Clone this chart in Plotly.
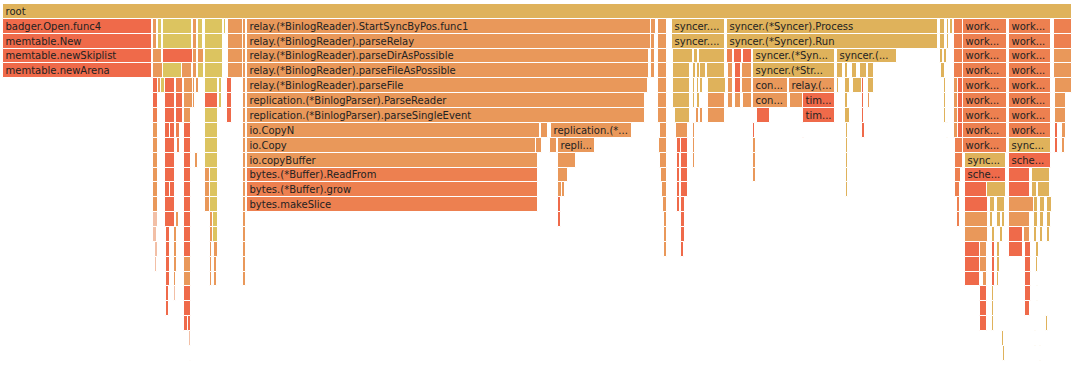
import plotly.graph_objects as go

# Flame graph frames, one list per stack depth.
# Each frame: (start sample, sample count, label, colour group)
depth_00 = [(0, 1069, "root", "g")]
depth_01 = [(0, 149, "badger.Open.func4", "r"), (150, 4, "", "o"), (155, 4, "", "y"), (160, 29, "", "y"),
            (190, 4, "", "o"), (195, 5, "", "y"), (202, 18, "", "y"), (221, 2, "", "y"), (225, 15, "", "o"),
            (240, 3, "", "o"),
            (244, 404, "relay.(*BinlogReader).StartSyncByPos.func1", "o"), (648, 5, "", "o"), (655, 9, "", "o"),
            (669, 53, "syncer....", "g"), (724, 211, "syncer.(*Syncer).Process", "g"),
            (937, 5, "", "g"), (944, 2, "", "g"), (947, 3, "", "g"), (951, 9, "", "d"),
            (960, 44, "work...", "d"), (1006, 42, "work...", "d"), (1051, 18, "", "d")]
depth_02 = [(0, 149, "memtable.New", "r"), (150, 4, "", "o"), (155, 4, "", "y"), (160, 29, "", "y"),
            (190, 4, "", "o"), (195, 5, "", "y"), (202, 18, "", "y"), (225, 15, "", "o"), (240, 3, "", "o"),
            (244, 404, "relay.(*BinlogReader).parseRelay", "o"), (648, 4, "", "o"), (655, 9, "", "o"),
            (669, 53, "syncer....", "g"), (724, 211, "syncer.(*Syncer).Run", "g"),
            (937, 5, "", "g"), (944, 2, "", "g"), (951, 9, "", "d"),
            (960, 44, "work...", "d"), (1006, 42, "work...", "d"), (1051, 18, "", "d")]
depth_03 = [(0, 149, "memtable.newSkiplist", "r"), (150, 9, "", "o"), (160, 30, "", "r"), (190, 4, "", "o"),
            (195, 6, "", "o"), (202, 18, "", "y"), (225, 15, "", "o"), (240, 3, "", "o"),
            (244, 402, "relay.(*BinlogReader).parseDirAsPossible", "o"), (648, 4, "", "o"), (655, 9, "", "o"),
            (670, 20, "", "g"), (691, 4, "", "g"), (696, 26, "", "g"),
            (724, 6, "", "d"), (731, 8, "", "r"), (740, 9, "", "r"),
            (750, 82, "syncer.(*Syn...", "g"), (834, 60, "syncer.(...", "g"),
            (937, 3, "", "g"), (941, 3, "", "g"), (951, 9, "", "d"),
            (960, 44, "work...", "d"), (1006, 42, "work...", "d"), (1051, 18, "", "o")]
depth_04 = [(0, 149, "memtable.newArena", "r"), (150, 10, "", "o"), (160, 19, "", "y"), (179, 10, "", "o"),
            (190, 4, "", "o"), (195, 6, "", "y"), (202, 18, "", "y"), (225, 15, "", "o"), (240, 3, "", "o"),
            (244, 402, "relay.(*BinlogReader).parseFileAsPossible", "o"), (648, 4, "", "o"), (655, 9, "", "o"),
            (670, 17, "", "g"), (690, 3, "", "g"), (694, 3, "", "g"), (697, 6, "", "g"), (704, 18, "", "g"),
            (725, 5, "", "o"), (732, 6, "", "r"), (739, 10, "", "o"),
            (750, 82, "syncer.(*Str...", "g"), (834, 6, "", "g"), (842, 3, "", "g"), (849, 5, "", "g"),
            (857, 7, "", "g"), (865, 6, "", "g"),
            (938, 4, "", "g"), (951, 9, "", "d"),
            (960, 44, "work...", "d"), (1006, 42, "work...", "d"), (1051, 18, "", "o")]
depth_05 = [(150, 5, "", "r"), (155, 3, "", "o"), (158, 4, "", "y"), (162, 10, "", "r"), (173, 7, "", "d"),
            (181, 9, "", "o"), (190, 2, "", "o"), (193, 3, "", "o"), (202, 13, "", "y"), (216, 3, "", "y"),
            (224, 5, "", "r"), (240, 3, "", "o"),
            (244, 401, "relay.(*BinlogReader).parseFile", "o"), (655, 9, "", "o"),
            (670, 17, "", "g"), (690, 2, "", "g"), (694, 2, "", "g"), (697, 3, "", "g"), (705, 18, "", "g"),
            (725, 5, "", "o"), (732, 6, "", "r"), (739, 10, "", "o"),
            (750, 35, "con...", "o"), (786, 46, "relay.(...", "o"),
            (834, 2, "", "g"), (842, 5, "", "g"), (850, 9, "", "g"), (859, 2, "", "r"), (865, 6, "", "g"),
            (941, 2, "", "g"), (951, 4, "", "o"), (955, 5, "", "r"),
            (960, 44, "work...", "d"), (1006, 42, "work...", "d"), (1052, 17, "", "o")]
depth_06 = [(150, 5, "", "r"), (162, 10, "", "r"), (173, 7, "", "r"), (181, 9, "", "o"), (190, 2, "", "o"),
            (202, 13, "", "r"), (216, 3, "", "y"), (224, 5, "", "r"), (240, 3, "", "o"),
            (244, 398, "replication.(*BinlogParser).ParseReader", "o"), (655, 9, "", "o"),
            (670, 17, "", "g"), (690, 2, "", "g"), (694, 3, "", "g"), (705, 17, "", "o"),
            (725, 5, "", "o"), (732, 6, "", "o"), (740, 9, "", "o"),
            (750, 35, "con...", "o"), (787, 13, "", "o"), (800, 32, "tim...", "r"),
            (842, 3, "", "g"), (859, 2, "", "r"), (865, 2, "", "o"),
            (941, 2, "", "g"), (951, 4, "", "o"), (955, 5, "", "r"),
            (960, 44, "work...", "d"), (1006, 42, "work...", "d"), (1052, 11, "", "o")]
depth_07 = [(150, 5, "", "d"), (162, 10, "", "r"), (173, 7, "", "r"), (181, 7, "", "o"),
            (202, 13, "", "y"), (224, 5, "", "r"), (240, 3, "", "o"),
            (244, 398, "replication.(*BinlogParser).parseSingleEvent", "o"), (655, 9, "", "o"),
            (672, 15, "", "g"), (693, 3, "", "o"), (697, 3, "", "o"), (705, 17, "", "o"),
            (754, 13, "", "r"), (800, 32, "tim...", "r"), (842, 5, "", "g"), (859, 2, "", "r"),
            (941, 2, "", "g"), (951, 4, "", "o"), (955, 5, "", "r"),
            (960, 44, "work...", "d"), (1006, 42, "work...", "d"), (1052, 11, "", "o")]
depth_08 = [(150, 5, "", "o"), (162, 5, "", "r"), (167, 5, "", "r"), (173, 4, "", "d"), (181, 7, "", "r"),
            (202, 13, "", "y"), (240, 3, "", "o"),
            (244, 293, "io.CopyN", "o"), (538, 7, "", "o"), (548, 81, "replication.(*...", "o"),
            (657, 7, "", "o"), (673, 12, "", "o"), (690, 2, "", "o"),
            (750, 2, "", "r"), (800, 1, "", "r"), (843, 2, "", "g"), (859, 3, "", "r"), (944, 1, "", "g"),
            (951, 4, "", "o"), (955, 5, "", "r"),
            (960, 44, "work...", "d"), (1006, 42, "work...", "d"), (1052, 3, "", "r"), (1059, 4, "", "o")]
depth_09 = [(150, 5, "", "o"), (162, 10, "", "r"), (174, 3, "", "d"), (181, 7, "", "r"),
            (202, 13, "", "y"), (240, 3, "", "o"),
            (244, 291, "io.Copy", "o"), (533, 6, "", "o"), (547, 7, "", "o"), (555, 37, "repli...", "o"),
            (656, 8, "", "o"), (674, 4, "", "r"), (678, 7, "", "r"), (690, 2, "", "o"),
            (750, 3, "", "o"), (843, 2, "", "g"),
            (952, 8, "", "d"), (960, 44, "work...", "d"), (1006, 42, "sync...", "g"),
            (1052, 3, "", "r"), (1059, 3, "", "o")]
depth_10 = [(150, 5, "", "o"), (162, 10, "", "r"), (181, 7, "", "r"), (192, 3, "", "o"),
            (202, 13, "", "y"), (240, 3, "", "o"),
            (244, 291, "io.copyBuffer", "o"), (555, 18, "", "o"),
            (657, 7, "", "o"), (674, 3, "", "r"), (678, 7, "", "r"), (690, 2, "", "o"),
            (750, 3, "", "o"), (843, 2, "", "g"),
            (952, 8, "", "d"), (962, 41, "sync...", "g"), (1006, 42, "sche...", "r")]
depth_11 = [(150, 5, "", "o"), (162, 10, "", "r"), (181, 7, "", "r"), (202, 5, "", "o"), (207, 8, "", "y"),
            (240, 3, "", "o"),
            (244, 291, "bytes.(*Buffer).ReadFrom", "d"), (555, 10, "", "o"),
            (658, 6, "", "o"), (674, 3, "", "r"), (678, 7, "", "r"), (750, 3, "", "o"), (843, 2, "", "g"),
            (952, 6, "", "d"), (962, 41, "sche...", "r"), (1006, 21, "", "r"), (1029, 18, "", "g")]
depth_12 = [(150, 5, "", "o"), (162, 5, "", "r"), (167, 5, "", "r"), (181, 7, "", "r"), (202, 5, "", "o"),
            (207, 8, "", "y"), (240, 3, "", "o"),
            (244, 291, "bytes.(*Buffer).grow", "d"), (555, 4, "", "o"), (559, 3, "", "o"),
            (659, 5, "", "o"), (674, 3, "", "r"), (678, 7, "", "r"), (843, 2, "", "g"),
            (952, 5, "", "d"), (962, 22, "", "r"), (984, 19, "", "g"), (1006, 21, "", "r"),
            (1029, 5, "", "g"), (1035, 12, "", "g")]
depth_13 = [(150, 5, "", "o"), (162, 10, "", "r"), (181, 7, "", "r"), (202, 5, "", "o"), (207, 8, "", "y"),
            (240, 3, "", "o"),
            (244, 291, "bytes.makeSlice", "d"), (555, 3, "", "r"),
            (660, 4, "", "o"), (674, 3, "", "r"), (678, 4, "", "r"),
            (954, 3, "", "d"), (962, 23, "", "r"), (987, 5, "", "g"), (994, 8, "", "g"),
            (1006, 26, "", "o"), (1031, 4, "", "g"), (1037, 5, "", "g"), (1044, 5, "", "g")]
depth_14 = [(150, 5, "", "p"), (162, 10, "", "r"), (173, 3, "", "o"), (181, 7, "", "r"), (207, 3, "", "o"),
            (210, 5, "", "y"), (240, 3, "", "o"),
            (555, 3, "", "r"), (661, 3, "", "o"), (678, 4, "", "r"),
            (954, 3, "", "d"), (962, 23, "", "o"), (987, 3, "", "g"), (994, 4, "", "g"), (999, 3, "", "g"),
            (1006, 21, "", "o"), (1031, 4, "", "g"), (1037, 4, "", "g"), (1044, 4, "", "g")]
depth_15 = [(150, 4, "", "p"), (163, 4, "", "r"), (171, 3, "", "o"), (181, 7, "", "r"), (207, 3, "", "o"),
            (210, 5, "", "y"), (240, 3, "", "o"),
            (661, 3, "", "o"), (678, 4, "", "r"),
            (962, 23, "", "o"), (989, 3, "", "g"), (997, 3, "", "g"), (1006, 14, "", "r"), (1021, 6, "", "o"),
            (1031, 3, "", "g"), (1037, 3, "", "g"), (1044, 3, "", "g")]
depth_16 = [(152, 3, "", "p"), (163, 4, "", "r"), (171, 3, "", "o"), (181, 7, "", "r"), (207, 2, "", "o"),
            (211, 4, "", "o"), (240, 3, "", "o"),
            (661, 3, "", "o"), (678, 3, "", "r"),
            (962, 15, "", "r"), (977, 7, "", "o"), (989, 3, "", "r"), (994, 3, "", "g"),
            (1006, 14, "", "r"), (1022, 6, "", "r"), (1033, 3, "", "g")]
depth_17 = [(152, 2, "", "p"), (163, 4, "", "r"), (171, 3, "", "o"), (181, 7, "", "o"), (207, 2, "", "o"),
            (211, 3, "", "o"), (240, 3, "", "o"),
            (962, 15, "", "r"), (977, 7, "", "o"), (989, 3, "", "r"), (994, 3, "", "g"),
            (1022, 6, "", "r"), (1033, 2, "", "g")]
depth_18 = [(163, 4, "", "r"), (171, 2, "", "o"), (181, 7, "", "o"), (207, 2, "", "o"), (211, 3, "", "o"),
            (240, 3, "", "o"),
            (962, 15, "", "r"), (980, 4, "", "o"), (989, 3, "", "r"), (994, 2, "", "g"), (1022, 6, "", "r")]
depth_19 = [(163, 3, "", "r"), (171, 2, "", "p"), (181, 7, "", "r"),
            (977, 7, "", "r"), (989, 2, "", "g"), (1022, 6, "", "r"), (1034, 1, "", "g")]
depth_20 = [(163, 3, "", "r"), (181, 7, "", "r"),
            (977, 7, "", "r"), (989, 2, "", "g"), (1022, 5, "", "r")]
depth_21 = [(181, 4, "", "r"), (185, 3, "", "r"),
            (977, 7, "", "r"), (989, 2, "", "g"), (1043, 2, "", "g")]
depth_22 = [(186, 2, "", "p"), (999, 2, "", "g"), (1032, 1, "", "g")]
depth_23 = [(187, 1, "", "p"), (1000, 2, "", "g"), (1037, 1, "", "g")]

stack_depths = [depth_00, depth_01, depth_02, depth_03, depth_04, depth_05, depth_06, depth_07,
                depth_08, depth_09, depth_10, depth_11, depth_12, depth_13, depth_14, depth_15,
                depth_16, depth_17, depth_18, depth_19, depth_20, depth_21, depth_22, depth_23]

# Colour groups (style)
palette = {
    "g": "#dfb25b",
    "r": "#ef6a4a",
    "o": "#e9985a",
    "d": "#ed8050",
    "y": "#dcc460",
    "p": "#f2bfa6",
}

ys, starts, widths, labels, colors = [], [], [], [], []
for depth, frames in enumerate(stack_depths):
    for start, samples, label, tone in frames:
        ys.append(depth)
        starts.append(start)
        widths.append(samples)
        labels.append(label)
        colors.append(palette[tone])

fig = go.Figure(go.Bar(
    orientation="h",
    y=ys,
    x=widths,
    base=starts,
    text=labels,
    hovertext=labels,
    hoverinfo="text",
    textposition="inside",
    insidetextanchor="start",
    constraintext="none",
    textangle=0,
    insidetextfont=dict(family="DejaVu Sans, Verdana, sans-serif", size=10, color="#222222"),
    marker=dict(color=colors, line=dict(color="#ffffff", width=1)),
    width=1.0,
))

fig.update_layout(
    width=1080,
    height=368,
    margin=dict(l=0, r=0, t=4, b=0),
    paper_bgcolor="white",
    plot_bgcolor="white",
    bargap=0,
    showlegend=False,
    xaxis=dict(range=[-3, 1077], visible=False, fixedrange=True),
    yaxis=dict(range=[23.99, -0.5], visible=False, fixedrange=True),
)

fig.write_html(
    "out.html",
    config={"displayModeBar": False},
    post_script="document.body.style.margin='0';document.body.style.overflow='hidden';",
)
